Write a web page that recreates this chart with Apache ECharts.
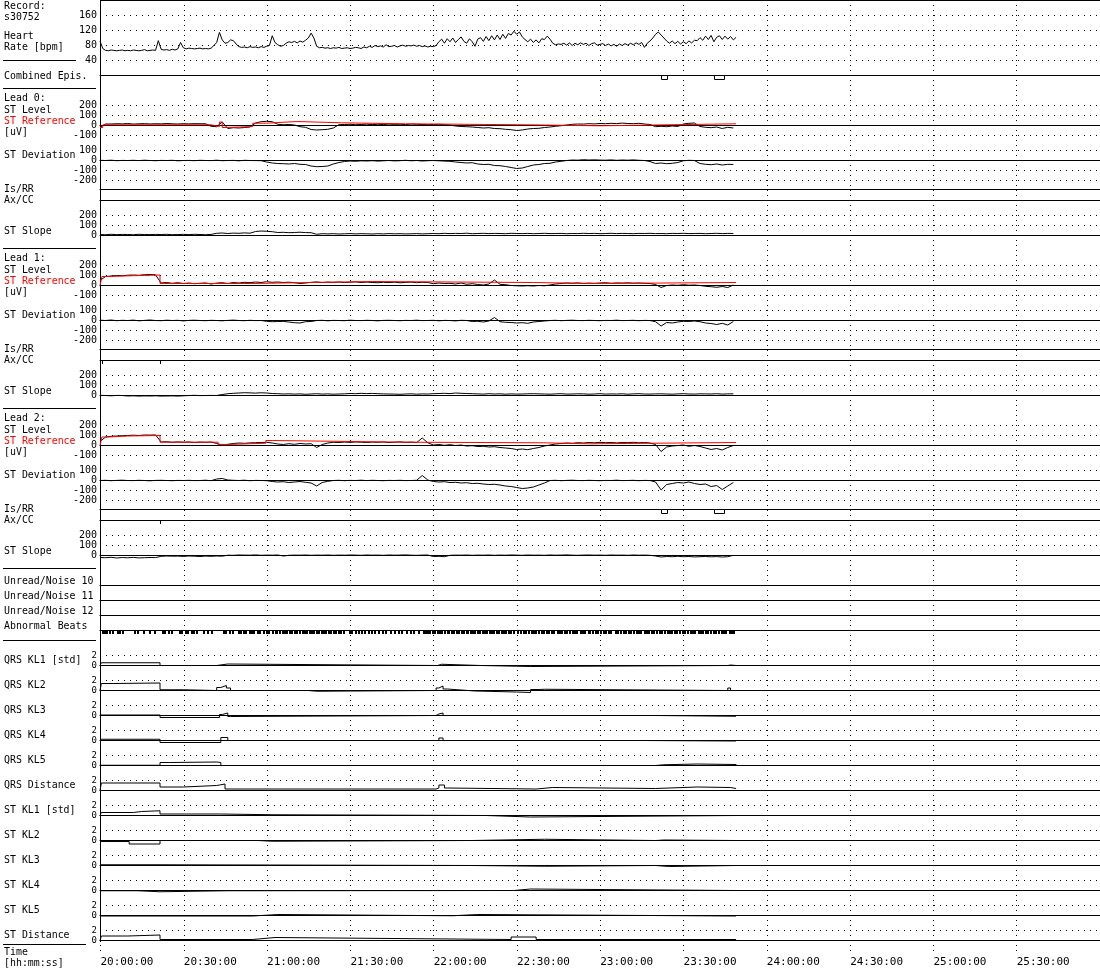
<!DOCTYPE html>
<html><head><meta charset="utf-8">
<script src="https://cdn.jsdelivr.net/npm/echarts@6/dist/echarts.min.js"></script>
<style>html,body{margin:0;padding:0;background:#fff}#c{width:1100px;height:970px}</style>
</head><body><div id="c"></div><script>
// ================= DATA =================
const timeTickLabels = ['20:00:00','20:30:00','21:00:00','21:30:00','22:00:00','22:30:00','23:00:00','23:30:00','24:00:00','24:30:00','25:00:00','25:30:00'];
const hrStepMin = 1;   // heart-rate samples, minutes since 20:00:00
const heartRate = [
92,72,67,66,68,67,66,67,68,66, 67,66,68,67,66,67,69,66,67,68,
67,93,70,68,69,67,70,68,71,88, 74,71,73,72,71,72,73,71,72,71,
73,80,88,115,95,86,88,95,93,84, 77,75,76,74,77,75,76,74,77,75,
78,80,106,88,82,78,80,86,90,88, 91,87,92,89,94,100,113,100,78,74,
75,73,74,72,74,73,75,72,73,74, 72,73,75,74,72,76,74,78,75,80,
77,79,76,82,77,78,80,76,79,81, 78,80,79,81,78,80,77,79,76,78,
77,80,90,97,86,98,90,100,88,96, 103,91,86,98,90,78,97,101,91,104,
93,106,95,108,96,110,99,112,108,118, 110,116,103,96,90,97,88,95,87,98,
96,105,97,86,82,84,83,86,81,87, 80,86,82,87,83,86,80,85,87,81,
83,85,80,84,79,83,78,84,80,85, 81,86,82,87,83,88,75,86,92,100,
110,116,108,100,92,86,92,85,91,84, 90,85,92,87,94,93,101,94,105,96,
107,90,102,106,96,105,97,104,95,102];
const combinedEpisodes = [[201.8,203.8],[221.0,224.6]];

const stStepMin = 2;   // ST samples every 2 minutes
const lead0Level = [-20,15,15,18,16,20,14,17,19,15, 18,16,20,17,15,18,16,19,17,18,
 -8,-12,35,-30,-22,-25,-20,-15,25,38, 42,38,12,8,10,5,-12,-18,-40,-45,
 -42,-38,-25,8,10,12,8,10,13,9, 12,10,14,11,13,9,15,12,10,8,
 10,12,8,5,-5,-10,-12,-15,-20,-25, -22,-30,-32,-38,-42,-50,-45,-35,-30,-28,
 -20,-15,-8,-2,5,12,15,14,18,16, 20,18,22,19,24,20,18,22,15,10,
 -12,-8,-12,-5,-10,15,22,25,-10,-18, -22,-15,-30,-18,-25];
const lead0Ref = [[0,-20],[1,7],[40,-10],[43,35],[44,-20],[45,-10],[55,23],[60,40],[71,27],[87,17],[110,7],[154,-3],[180,17],[229,17]];
const lead0Dev = [2,0,3,-2,1,0,2,-1,3,0, -2,1,0,2,-3,0,1,-2,2,0,
 -1,3,-2,0,1,-3,2,0,-1,-2, -15,-25,-30,-32,-35,-30,-38,-40,-55,-62,
 -60,-55,-35,-20,-10,-5,-8,-3,-5,-2, -6,-3,0,-4,-2,2,-3,0,-5,-2,
 0,-3,-6,-8,-15,-20,-25,-22,-35,-40, -38,-50,-52,-60,-70,-80,-75,-60,-45,-40,
 -30,-28,-15,-8,0,5,3,8,5,7, 4,3,6,2,5,3,6,2,0,-10,
 -30,-25,-32,-28,-20,-3,2,0,-30,-38, -42,-35,-45,-38,-40];
const lead0Slope = [10,8,12,9,11,10,8,12,10,9, 11,10,12,8,10,11,9,12,10,8,
 11,22,25,20,24,22,26,23,40,45, 42,38,30,32,28,30,33,29,28,12,
 18,16,18,15,17,19,16,18,17,15, 18,16,19,17,18,16,17,19,16,18,
 20,18,22,19,21,20,23,18,20,22, 19,21,20,18,22,20,19,21,18,20,
 22,19,20,21,18,20,19,22,20,21, 18,20,22,19,21,20,18,21,20,22,
 19,20,18,21,20,22,19,20,21,18, 20,22,19,21,20];

const lead1Level = [50,90,95,100,98,103,105,102,108,110, 107,25,30,22,28,20,25,18,22,26,
 15,24,28,20,30,25,32,28,35,30, 38,32,35,30,33,28,20,25,32,36,
 30,34,31,35,30,33,36,30,34,30, 28,32,29,33,27,31,34,28,32,30,
 18,25,20,22,15,25,12,18,10,5, 15,55,12,8,0,-3,-5,-2,-5,0,
 -3,5,15,20,25,22,26,20,24,22, 25,28,22,26,24,27,23,25,22,20,
 10,-20,0,5,2,8,3,5,0,-8, -12,-18,-10,-20,5];
const lead1Ref = [[0,0],[0.7,90],[3,98],[12,105],[21.6,20],[55,40],[98,30],[156,20],[178,30],[229,30]];
const lead1Dev = [3,0,5,-2,2,0,4,-3,1,5, 0,-2,3,0,2,-4,1,3,0,-2,
 2,0,-3,1,4,0,-2,2,-1,0, -8,-12,-10,-9,-15,-22,-25,-12,-10,0,
 2,-3,1,0,-2,3,0,-1,2,0, -3,1,2,0,-2,1,0,3,-1,0,
 2,-3,1,0,-4,2,0,-10,-8,-15, -5,30,-12,-18,-20,-25,-22,-28,-15,-10,
 -5,0,2,-2,1,3,0,-1,2,0, -2,1,0,3,-1,0,2,-2,1,0,
 -12,-55,-20,-25,-15,-8,-10,-5,-12,-25, -30,-40,-28,-45,-10];
const lead1Slope = [2,0,-3,1,0,-5,-3,-6,-4,-5, -3,-6,-5,-4,-6,-3,0,2,-1,0,
 1,0,10,18,22,25,28,26,24,27, 25,20,18,15,17,14,16,12,15,18,
 14,16,13,15,17,20,18,22,19,21, 18,16,15,14,12,15,17,13,16,15,
 18,20,22,19,25,22,20,18,16,14, 18,15,17,13,16,14,15,17,18,16,
 15,13,16,18,14,15,17,16,13,15, 18,14,16,15,17,13,16,18,15,14,
 16,17,15,13,16,18,15,14,17,16, 15,18,14,16,17];
const lead1AxCC = [0.7, 21.6];

const lead2Level = [40,85,92,95,98,100,103,100,105,104, 106,35,38,32,36,33,35,30,34,32,
 35,20,5,12,20,25,22,26,28,30, 32,25,15,10,18,12,20,15,18,-20,
 10,25,32,30,34,31,35,33,30,34, 32,35,30,33,36,32,34,30,75,28,
 5,10,2,8,0,5,-5,-2,-10,-8, -15,-12,-20,-25,-30,-40,-35,-42,-30,-20,
 -5,5,15,20,25,22,28,25,30,27, 32,28,30,26,30,28,32,27,30,25,
 10,-60,-15,-5,0,5,-8,0,-10,-25, -40,-30,-45,-20,0];
const lead2Ref = [[0,0],[0.7,85],[3,95],[10,100],[21.6,33],[42.5,10],[46,23],[59.7,50],[62,33],[109.7,27],[159.7,17],[176,30],[229,30]];
const lead2Dev = [0,2,-2,1,3,0,-1,2,0,-3, 1,2,0,-2,1,0,2,-1,0,3,
 -2,15,20,5,2,0,3,-2,1,0, -2,-10,-15,-12,-20,-15,-10,-18,-25,-55,
 -20,-8,0,2,-2,1,0,3,-1,2, 0,-2,1,0,2,-1,0,2,50,5,
 -10,-15,-12,-20,-18,-25,-22,-30,-28,-35, -40,-38,-45,-55,-60,-70,-80,-75,-65,-45,
 -25,0,2,-2,1,3,0,-1,2,0, -2,1,0,3,-1,0,2,-2,1,0,
 -15,-95,-40,-30,-20,-25,-15,-30,-40,-35, -60,-50,-90,-55,-20];
const lead2Slope = [-20,-22,-18,-25,-20,-23,-19,-24,-22,-20, -21,-8,-5,-7,-6,-9,-5,-7,-10,-6,
 -8,-5,-7,3,2,5,4,3,6,2, 4,3,5,-5,2,4,3,5,2,4,
 3,5,2,4,3,5,4,2,5,3, 4,2,5,3,4,6,3,2,4,5,
 -10,-8,-12,2,4,3,5,2,4,3, 5,2,4,3,5,4,2,5,3,4,
 2,5,3,4,6,3,2,4,5,3, 4,2,5,3,4,2,5,3,4,2,
 -5,-15,-10,-12,-8,-12,-10,-14,-12,-10, -13,-11,-15,-12,2];
const lead2IsRR = [[201.8,203.8],[221.0,224.6]];
const lead2AxCC = [21.6];

const abnormalBeats = [0.7,1.5,2.2,3.3,4.4,6.0,6.9,8.0,12.2,13.3,15.4,17.6,19.5,22.3,23.2,24.6,25.7,
 28.4,29.3,30.5,31.3,32.6,33.4,34.7,37.2,38.5,39.8,44.2,45.1,46.4,47.6,
 49.6,50.4,51.6,52.3,53.7,54.5,55.2,56.6,57.4,58.5,59.7,60.6,
 62.0,62.9,63.5,64.6,65.4,66.3,67.1,68.2,68.9,69.8,70.7,71.5,72.6,73.3,74.1,75.2,75.9,76.8,77.7,78.4,79.5,80.3,81.0,82.1,82.8,83.9,84.6,85.5,86.4,87.3,
 89.6,90.5,91.7,92.8,93.8,95.2,96.3,97.4,98.7,100.1,101.6,102.6,
 104.5,105.8,107.2,108.5,110.1,111.6,112.7,114.4,
 116.1,116.9,117.8,118.5,119.6,120.3,121.2,122.0,122.9,123.7,124.8,125.4,126.3,127.1,128.2,128.9,129.8,130.5,131.6,132.2,133.1,134.0,134.7,135.8,136.4,137.5,138.3,139.0,139.9,140.8,141.5,142.6,143.3,144.2,145.1,145.8,146.9,147.6,148.5,
 150.2,151.3,152.1,153.0,154.2,155.0,155.9,156.7,157.8,158.6,159.5,160.7,161.4,162.3,163.2,164.4,165.1,166.0,167.2,167.9,168.8,169.9,170.6,171.5,172.7,173.4,174.3,175.5,176.2,177.1,178.3,179.0,180.1,180.9,181.8,182.7,183.6,
 185.4,186.2,187.3,188.1,189.0,190.2,190.9,191.8,192.9,193.6,194.5,195.7,196.4,197.3,198.5,199.2,200.1,201.3,202.0,202.9,204.0,204.8,205.7,206.8,207.5,208.4,209.6,210.3,211.2,212.4,213.1,214.0,215.2,215.9,216.8,217.9,218.6,219.5,220.7,221.4,222.3,223.5,224.2,225.1,226.3,227.0,227.9];

// KL trends: step breakpoints [minute, value in std], value holds until next breakpoint
const klNames = ['QRS KL1 [std]','QRS KL2','QRS KL3','QRS KL4','QRS KL5','QRS Distance','ST KL1 [std]','ST KL2','ST KL3','ST KL4','ST KL5','ST Distance'];
const qrsKL1 = [[0,0],[0.5,0.55],[21.6,0],[42,0.3],[46,0],[121.5,0.25],[123,0],[137,-0.2],[155,0],[226,0.1],[227,0],[229,0]];
const qrsKL2 = [[0,0],[0.5,1.4],[5,1.5],[21.6,0.15],[30,0],[42,0.6],[43.5,1.0],[45.5,0.5],[47,0],[75,-0.15],[78,0],[121,0.5],[122,0.9],[123.5,0.3],[125,-0.1],[135,-0.3],[150,-0.4],[155,0.2],[158,0.25],[160,0],[226,0.5],[227,0],[229,0]];
const qrsKL3 = [[0,0.1],[21.6,-0.4],[43,0.2],[44,0.5],[46,-0.2],[47,0],[121,0.3],[122,0.5],[123.5,0],[200,-0.15],[229,-0.1]];
const qrsKL4 = [[0,0.25],[21.6,-0.4],[43.5,0.6],[46,0],[122,0.5],[123.5,0],[195,-0.1],[229,0]];
const qrsKL5 = [[0,0.05],[21.6,0.6],[25,0.7],[42,0.6],[43.5,0],[200,0.15],[203,0.3],[215,0.2],[229,0]];
const qrsDist = [[0,0],[0.5,1.5],[21.6,0.7],[30,1.0],[42,1.1],[43,1.3],[45,0.3],[121,0.5],[122,1.1],[124,0.5],[125,0.3],[157,0.6],[163,0.4],[200,0.7],[215,0.6],[227,0.4],[229,0.4]];
const stKL1 = [[0,0],[0.5,0.6],[12,0.8],[15,0.95],[21.6,0.3],[43,0.15],[63,0],[139,-0.3],[155,0],[229,0]];
const stKL2 = [[0,-0.2],[10.5,-0.7],[21.6,0],[57,-0.15],[62,0],[134,0.25],[160,0],[200,0.1],[203,0],[229,0.05]];
const stKL3 = [[0,0.15],[21.6,0],[134,-0.15],[160,0],[200,-0.2],[205,0],[229,0]];
const stKL4 = [[0,-0.05],[13.5,-0.25],[21.6,-0.05],[46,0],[149,0.3],[155,0],[229,0]];
const stKL5 = [[0,-0.1],[55,0.2],[64,-0.05],[127,0.2],[136,-0.1],[229,-0.05]];
const stDist = [[0,0],[0.5,0.9],[10,1.1],[21.6,0.2],[55,0.6],[63,0.2],[148,0.7],[157,0.2],[229,0.2]];
const klSeries = [qrsKL1,qrsKL2,qrsKL3,qrsKL4,qrsKL5,qrsDist,stKL1,stKL2,stKL3,stKL4,stKL5,stDist];

// ================= BUILD =================
const FONT = '"DejaVu Sans Mono", monospace';
const opt = {animation:false, backgroundColor:'#fff', grid:[], xAxis:[], yAxis:[], series:[], graphic:[]};

function addGrid(top, height, yMin, yMax, yInterval, o) {
  o = o || {};
  const i = opt.grid.length;
  opt.grid.push({left:100, right:0, top: top + 0.5, height, containLabel:false, outerBoundsMode:'none'});
  opt.xAxis.push({gridIndex:i, type:'value', min:0, max:360, position:o.xPos||'bottom',
    axisLine:{show:o.xLine!==false, onZero:o.xPos!=='top', lineStyle:{color:'#000', width:1}},
    axisTick:{show:false}, axisLabel:{show:false}, splitLine:{show:false}});
  opt.yAxis.push({gridIndex:i, type:'value', min:yMin, max:yMax, interval:yInterval,
    show: true,
    axisLine:{show:false}, axisTick:{show:false},
    axisLabel:{show:!!o.labels, showMinLabel:true, showMaxLabel:true, hideOverlap:false,
      fontFamily:FONT, fontSize:o.fs||10, color:'#000', margin:o.margin||3,
      formatter: v => (o.labels && o.labels.indexOf(v) >= 0) ? String(v) : ''},
    splitLine:{show:!!o.dotted, lineStyle:{color:'#000', type:[1,5], width:1}}});
  return i;
}
function addLine(gi, data, color) {
  opt.series.push({type:'line', xAxisIndex:gi, yAxisIndex:gi, data, symbol:'none', showSymbol:false,
    clip:false, silent:true, z:3, lineStyle:{color:color||'#000', width:1}});
}
const sampled = (vals, step) => vals.map((v,i)=>[i*step, v]);
// hold each value until the next breakpoint (explicit step path)
const held = bp => { const out=[]; bp.forEach((p,i)=>{ out.push([p[0],p[1]]); if(i+1<bp.length) out.push([bp[i+1][0],p[1]]); }); return out; };
function addBoxes(gi, intervals) {
  opt.series.push({type:'custom', xAxisIndex:gi, yAxisIndex:gi, data:intervals, clip:false, silent:true, z:4,
    renderItem:(p, api) => {
      const a = api.coord([api.value(0), 0]), b = api.coord([api.value(1), -4]);
      return {type:'rect', shape:{x:Math.round(a[0])+0.5, y:a[1], width:Math.round(b[0]-a[0]), height:b[1]-a[1]},
        style:{fill:'#fff', stroke:'#000', lineWidth:1}};
    }});
}
function addTicks(gi, times, w) {
  opt.series.push({type:'custom', xAxisIndex:gi, yAxisIndex:gi, data:times.map(t=>[t,0]), clip:false, silent:true, z:4,
    renderItem:(p, api) => {
      const a = api.coord([api.value(0), 0]), b = api.coord([api.value(0), -4]);
      return {type:'rect', shape:{x:Math.round(a[0]), y:a[1]-0.5, width:w, height:b[1]-a[1]}, style:{fill:'#000'}};
    }});
}

// background grid: vertical dotted time grid + time labels
{
  const i = opt.grid.length;
  opt.grid.push({left:100.5, right:0, top:0, height:955, containLabel:false, outerBoundsMode:'none'});
  opt.xAxis.push({gridIndex:i, type:'value', min:0, max:360, interval:30,
    axisLine:{show:false}, axisTick:{show:false},
    axisLabel:{show:true, showMaxLabel:false, align:'left', margin:2, fontFamily:FONT, fontSize:11, color:'#000',
      formatter: v => timeTickLabels[Math.round(v/30)] || ''},
    splitLine:{show:true, lineStyle:{color:'#000', type:[1,4], width:1}}});
  opt.yAxis.push({gridIndex:i, type:'value', show:false, min:0, max:1});
}

// Heart rate
const gHR = addGrid(0, 75, 0, 200, 40, {labels:[40,80,120,160], dotted:true});
addLine(gHR, sampled(heartRate, hrStepMin));
// Combined episodes
const gCE = addGrid(75, 10, -10, 0, 10, {xLine:false});
addBoxes(gCE, combinedEpisodes);

const leads = [
  {level:lead0Level, ref:lead0Ref, dev:lead0Dev, slope:lead0Slope, isrr:[], axcc:[]},
  {level:lead1Level, ref:lead1Ref, dev:lead1Dev, slope:lead1Slope, isrr:[], axcc:lead1AxCC},
  {level:lead2Level, ref:lead2Ref, dev:lead2Dev, slope:lead2Slope, isrr:lead2IsRR, axcc:lead2AxCC}
];
leads.forEach((ld, k) => {
  const off = 160*k;
  const gL = addGrid(105+off, 30, -100, 200, 100, {labels:[-100,0,100,200], dotted:true});
  addLine(gL, sampled(ld.level, stStepMin));
  addLine(gL, held(ld.ref), '#ff0000');
  const gD = addGrid(150+off, 30, -200, 100, 100, {labels:[-200,-100,0,100], dotted:true});
  addLine(gD, sampled(ld.dev, stStepMin));
  const gI = addGrid(189+off, 11, -11, 0, 11, {xPos:'top'});
  addBoxes(gI, ld.isrr);
  const gA = addGrid(200+off, 10, -10, 0, 10, {xPos:'top'});
  addTicks(gA, ld.axcc, 1);
  const gS = addGrid(215+off, 20, 0, 200, 100, {labels:[0,100,200], dotted:true});
  addLine(gS, sampled(ld.slope, stStepMin));
});
// Unread / noise rows and abnormal beats
[585, 600, 615].forEach(top => addGrid(top, 10, -10, 0, 10, {xPos:'top'}));
const gAB = addGrid(630, 10, -10, 0, 10, {xPos:'top'});
addTicks(gAB, abnormalBeats, 2);
// KL panels
klSeries.forEach((s, k) => {
  const g = addGrid(655 + 25*k, 10, 0, 2, 2, {labels:[0,2], dotted:true, fs:9});
  addLine(g, held(s), '#000');
});

// ---- text labels & frame ----
const T = (x, y, text, color) => ({type:'text', x, y, scaleX:0.9, silent:true,
  style:{text, font:'11px "DejaVu Sans Mono", monospace', fill:color||'#000', verticalAlign:'middle', textVerticalAlign:'middle'}});
const HL = (x1, x2, y) => ({type:'line', silent:true, shape:{x1, y1:y, x2, y2:y}, style:{stroke:'#000', lineWidth:1}});
const G = opt.graphic;
G.push({type:'line', silent:true, shape:{x1:100.5, y1:0, x2:100.5, y2:942}, style:{stroke:'#000', lineWidth:1}});
G.push(HL(100, 1100, 0.5));
G.push(T(4,6,'Record:'), T(4,17,'s30752'), T(4,36,'Heart'), T(4,47,'Rate [bpm]'), HL(3,76,60.5));
G.push(T(4,76,'Combined Epis.'), HL(3,96,88.5));
for (let k=0;k<3;k++){
  const off=160*k;
  G.push(T(4,98+off,'Lead '+k+':'), T(4,110+off,'ST Level'), T(4,121+off,'ST Reference','#ff0000'), T(4,132+off,'[uV]'),
    T(4,155+off,'ST Deviation'), T(4,189+off,'Is/RR'), T(4,200+off,'Ax/CC'), T(4,231+off,'ST Slope'), HL(3,96,248.5+off));
}
G.push(T(4,581,'Unread/Noise 10'), T(4,596,'Unread/Noise 11'), T(4,611,'Unread/Noise 12'), T(4,626,'Abnormal Beats'), HL(3,96,640.5));
klNames.forEach((n,k)=>G.push(T(4,660+25*k,n)));
G.push(HL(3,86,944.5), T(4,952,'Time'), T(4,963,'[hh:mm:ss]'));

const chart = echarts.init(document.getElementById('c'), null, {renderer:'canvas'});
chart.setOption(opt);
</script></body></html>
